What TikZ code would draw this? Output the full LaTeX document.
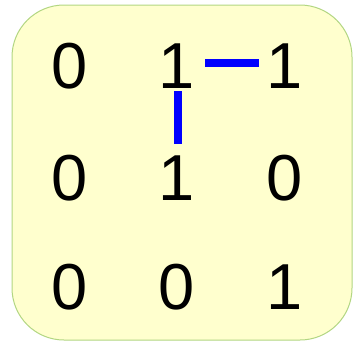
\documentclass[tikz,border=0pt]{standalone}
\usepackage{fontspec}
\setmainfont{Liberation Sans}
\usetikzlibrary{positioning}
\definecolor{panelfill}{RGB}{255,255,206}
\definecolor{panelline}{RGB}{178,214,130}

\begin{document}
\begin{tikzpicture}[x=1pt,y=-1pt,
  digit/.style={inner sep=0pt,font=\fontsize{65}{78}\selectfont},
  link/.style={line width=8pt,blue},
]
\useasboundingbox (0,0) rectangle (359,346);

% panel
\draw[panelline,fill=panelfill,line width=1pt,rounded corners=52pt] (12,5) rectangle (352,340);

% matrix entries
\node[digit] (a11) at (70,66) {0};
\node[digit] (a12) at (177,66) {1};
\node[digit] (a13) at (285,66) {1};
\node[digit] (a21) at (70,178) {0};
\node[digit] (a22) at (177,178) {1};
\node[digit] (a23) at (285,178) {0};
\node[digit] (a31) at (70,287) {0};
\node[digit] (a32) at (177,287) {0};
\node[digit] (a33) at (285,287) {1};

% path links
\draw[link,shorten <=28pt,shorten >=26pt] ([yshift=3pt]a12.center) -- ([yshift=3pt]a13.center);
\draw[link,shorten <=25pt,shorten >=34pt] ([xshift=1pt]a12.center) -- ([xshift=1pt]a22.center);

\end{tikzpicture}
\end{document}
